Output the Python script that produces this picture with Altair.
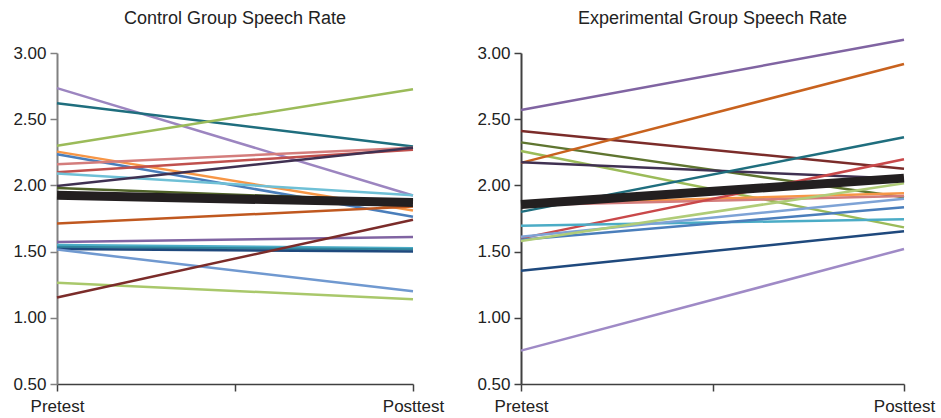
import altair as alt
import pandas as pd

# ---- Data ----
titles = ["Control Group Speech Rate", "Experimental Group Speech Rate"]

ctrl_pre = [2.735, 2.62, 2.30, 2.255, 2.235, 2.16, 2.100, 2.09, 1.995, 1.980,
            1.712, 1.573, 1.550, 1.535, 1.520, 1.515, 1.265, 1.154]
ctrl_post = [1.924, 2.293, 2.727, 1.81, 1.763, 2.285, 2.270, 1.926, 2.285, 1.880,
             1.840, 1.610, 1.525, 1.515, 1.500, 1.200, 1.140, 1.740]
ctrl_colors = ["#9c85c0", "#1f6e7e", "#9bbb59", "#f79646", "#4a7ebb", "#d47d7c",
               "#c0504d", "#6fc0d6", "#403152", "#4f6228", "#c0581f", "#8064a2",
               "#4bacc6", "#31859c", "#1f497d", "#7099d0", "#a9c86b", "#7b2c2a"]
ctrl_mean = [1.925, 1.870]

exp_pre = [2.57, 2.41, 2.325, 2.26, 2.17, 2.175, 1.80, 1.86, 1.85, 1.60,
           1.696, 1.613, 1.59, 1.58, 1.356, 0.752]
exp_post = [3.10, 2.126, 1.91, 1.683, 2.917, 2.05, 2.363, 1.94, 1.92, 2.197,
            1.744, 1.90, 1.835, 2.016, 1.653, 1.52]
exp_colors = ["#8064a2", "#7b2c2a", "#5f7530", "#9bbb59", "#c8621e", "#403152",
              "#1f6e7e", "#f79646", "#d47d7c", "#c9484a", "#4bacc6", "#7ea3d6",
              "#4a7ebb", "#b0cc78", "#1f497d", "#9f8ac6"]
exp_mean = [1.855, 2.055]

phases = [0, 1]
phase_labels = ["Pretest", "Posttest"]
y_ticks = [0.5, 1.0, 1.5, 2.0, 2.5, 3.0]

FONT = "Liberation Sans"


def panel(title, pre, post, colors, mean, group, width, ycolor):
    rows = []
    ids = []
    for i, (a, b) in enumerate(zip(pre, post)):
        sid = f"{group}{i:02d}"
        ids.append(sid)
        rows.append({"id": sid, "phase": phases[0], "value": a})
        rows.append({"id": sid, "phase": phases[1], "value": b})
    df = pd.DataFrame(rows)
    mdf = pd.DataFrame({"phase": phases, "value": mean})

    x = alt.X(
        "phase:Q",
        scale=alt.Scale(domain=[0, 1], nice=False, zero=False),
        axis=alt.Axis(
            values=[0, 0.5, 1],
            labelExpr=f"datum.value == 0 ? '{phase_labels[0]}' : (datum.value == 1 ? '{phase_labels[1]}' : '')",
            title=None, grid=False, labelFlush=False, labelOverlap=False,
            labelBound=False, tickSize=7, labelPadding=7,
            domainColor="#404040", tickColor="#404040", domainWidth=1.5, tickWidth=1.5,
        ),
    )
    y = alt.Y(
        "value:Q",
        scale=alt.Scale(domain=[0.5, 3.0], nice=False, zero=False),
        axis=alt.Axis(
            values=y_ticks, format=".2f", title=None, grid=False,
            tickSize=7, labelPadding=4,
            domainColor=ycolor, tickColor=ycolor, domainWidth=2, tickWidth=1.5,
        ),
    )
    lines = alt.Chart(df).mark_line(strokeWidth=2.5).encode(
        x=x, y=y,
        color=alt.Color("id:N", scale=alt.Scale(domain=ids, range=colors), legend=None),
        detail="id:N",
    )
    mline = alt.Chart(mdf).mark_line(strokeWidth=9, color="#231f20").encode(
        x="phase:Q", y="value:Q"
    )
    ttl = alt.Chart(pd.DataFrame({"t": [title]})).mark_text(
        font=FONT, fontSize=18, color="#222222", align="center", baseline="alphabetic"
    ).encode(text="t:N", x=alt.value(width / 2), y=alt.value(-29))
    return alt.layer(lines, mline, ttl).properties(width=width, height=331)


left = panel(titles[0], ctrl_pre, ctrl_post, ctrl_colors, ctrl_mean, "c", 356, "#808080")
right = panel(titles[1], exp_pre, exp_post, exp_colors, exp_mean, "e", 383, "#404040")

chart = alt.hconcat(left, right, spacing=108, bounds="flush").resolve_scale(
    color="independent"
).properties(
    padding={"left": 12, "top": 10, "right": 2, "bottom": 1},
    background="white",
).configure_view(stroke=None).configure_axis(
    labelFont=FONT, labelFontSize=17, labelColor="#222222",
)

chart.save("out.html", embed_options={"renderer": "svg", "actions": False})
